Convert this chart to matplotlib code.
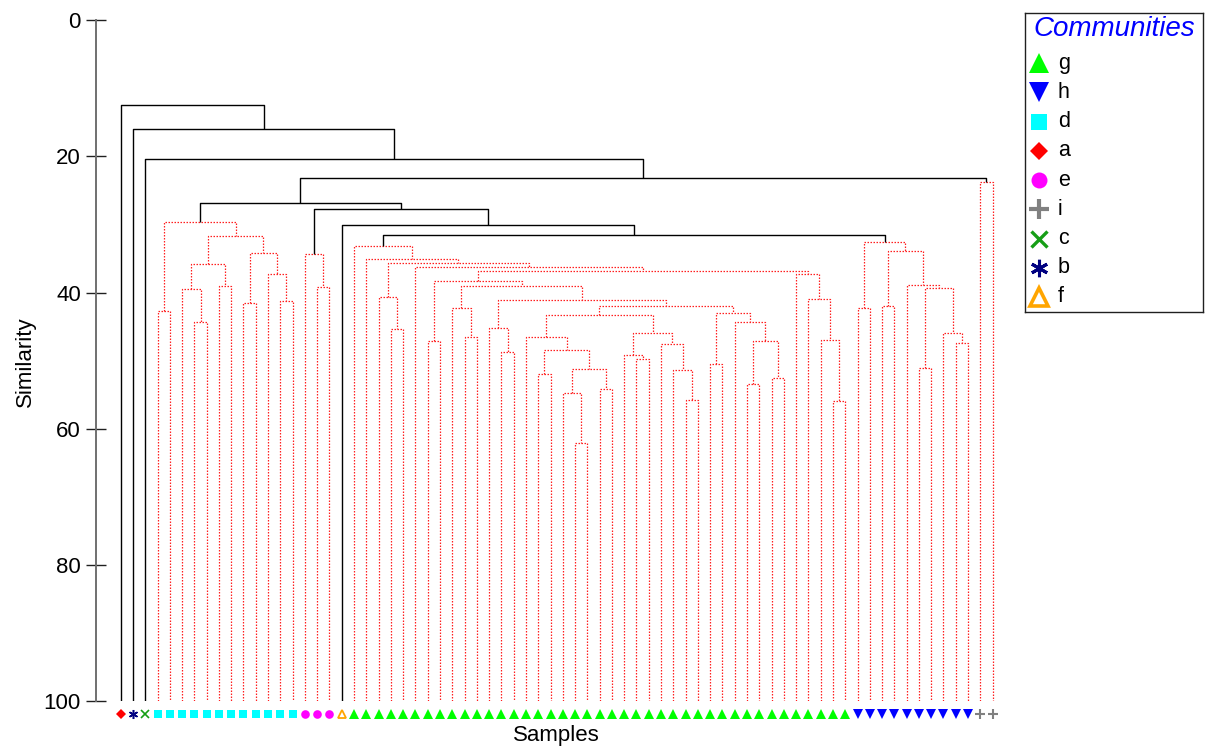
import matplotlib
matplotlib.use("Agg")
import matplotlib.pyplot as plt

plt.rcParams['font.family'] = ['Liberation Sans', 'DejaVu Sans']

# Community of the leaves, in the order they sit along the x axis
GROUP_ORDER = ['a', 'b', 'c', 'd', 'e', 'f', 'g', 'h', 'i']
GROUP_COUNTS = [1, 1, 1, 12, 3, 1, 41, 10, 2]

# Legend entries, top to bottom
LEGEND_ORDER = ['g', 'h', 'd', 'a', 'e', 'i', 'c', 'b', 'f']

# Merges: (name, left, right, similarity). ints are leaves, strings are earlier merges
MERGES = [
    # d cluster
    ('sq_34', 3, 4, 42.7),
    ('sq_67', 6, 7, 44.3),
    ('sq_567', 5, 'sq_67', 39.5),
    ('sq_89', 8, 9, 39.1),
    ('sq_5_9', 'sq_567', 'sq_89', 35.8),
    ('sq_1011', 10, 11, 41.6),
    ('sq_1314', 13, 14, 41.3),
    ('sq_1214', 12, 'sq_1314', 37.2),
    ('sq_10_14', 'sq_1011', 'sq_1214', 34.2),
    ('sq_5_14', 'sq_5_9', 'sq_10_14', 31.7),
    ('sq_all', 'sq_34', 'sq_5_14', 29.7),
    # e cluster
    ('ci_1617', 16, 17, 39.2),
    ('ci_all', 15, 'ci_1617', 34.4),
    # g cluster
    ('g_2223', 22, 23, 45.3),
    ('g_2123', 21, 'g_2223', 40.6),
    ('g_2526', 25, 26, 47.1),
    ('g_2829', 28, 29, 46.5),
    ('g_2729', 27, 'g_2829', 42.3),
    ('g_3132', 31, 32, 48.7),
    ('g_3032', 30, 'g_3132', 45.2),
    ('g_3435', 34, 35, 51.9),
    ('g_3738', 37, 38, 62.1),
    ('g_3638', 36, 'g_3738', 54.8),
    ('g_3940', 39, 40, 54.1),
    ('g_3640', 'g_3638', 'g_3940', 51.2),
    ('g_3440', 'g_3435', 'g_3640', 48.4),
    ('g_3340', 33, 'g_3440', 46.5),
    ('g_4243', 42, 43, 49.7),
    ('g_4143', 41, 'g_4243', 49.2),
    ('g_4647', 46, 47, 55.8),
    ('g_4547', 45, 'g_4647', 51.4),
    ('g_4447', 44, 'g_4547', 47.6),
    ('g_4147', 'g_4143', 'g_4447', 46.0),
    ('g_3347', 'g_3340', 'g_4147', 43.3),
    ('g_4849', 48, 49, 50.5),
    ('g_5152', 51, 52, 53.4),
    ('g_5354', 53, 54, 52.5),
    ('g_5154', 'g_5152', 'g_5354', 47.1),
    ('g_5054', 50, 'g_5154', 44.3),
    ('g_4854', 'g_4849', 'g_5054', 43.0),
    ('g_3354', 'g_3347', 'g_4854', 41.9),
    ('g_3054', 'g_3032', 'g_3354', 41.1),
    ('g_2754', 'g_2729', 'g_3054', 39.1),
    ('g_2554', 'g_2526', 'g_2754', 38.3),
    ('g_5859', 58, 59, 55.9),
    ('g_5759', 57, 'g_5859', 47.0),
    ('g_5659', 56, 'g_5759', 41.0),
    ('g_5559', 55, 'g_5659', 37.3),
    ('g_2559', 'g_2554', 'g_5559', 36.9),
    ('g_2459', 24, 'g_2559', 36.2),
    ('g_2159', 'g_2123', 'g_2459', 35.6),
    ('g_2059', 20, 'g_2159', 35.1),
    ('g_all', 19, 'g_2059', 33.2),
    # h cluster
    ('b_6061', 60, 61, 42.3),
    ('b_6263', 62, 63, 41.9),
    ('b_6566', 65, 66, 51.1),
    ('b_6869', 68, 69, 47.4),
    ('b_6769', 67, 'b_6869', 45.9),
    ('b_6569', 'b_6566', 'b_6769', 39.3),
    ('b_6469', 64, 'b_6569', 38.9),
    ('b_6269', 'b_6263', 'b_6469', 33.9),
    ('b_all', 'b_6061', 'b_6269', 32.5),
    # i pair
    ('p_all', 70, 71, 23.7),
    # upper part of the tree
    ('t_gb', 'g_all', 'b_all', 31.6),
    ('t_f', 18, 't_gb', 30.0),
    ('t_ci', 'ci_all', 't_f', 27.7),
    ('t_sq', 'sq_all', 't_ci', 26.9),
    ('t_p', 't_sq', 'p_all', 23.2),
    ('t_c', 2, 't_p', 20.4),
    ('t_b', 1, 't_c', 15.9),
    ('root', 0, 't_b', 12.5),
]

# merges drawn as solid black lines, everything else is red dotted
SIGNIFICANT = ['t_gb', 't_f', 't_ci', 't_sq', 't_p', 't_c', 't_b', 'root']

# marker, colour, filled, size on the axis, size in legend, edge width
MARKERS = {
    'g': ('^', '#00FF00', True, 6.7, 14, 1.0),
    'h': ('v', '#0000FF', True, 6.7, 14, 1.0),
    'd': ('s', '#00FFFF', True, 5.8, 11.5, 1.0),
    'a': ('D', '#FF0000', True, 4.7, 9.5, 1.0),
    'e': ('o', '#FF00FF', True, 6.2, 11.5, 1.0),
    'i': ('+', '#808080', True, 6.5, 14, 1.5),
    'c': ('x', '#169E16', True, 5.5, 11, 1.2),
    'b': ((6, 2, 0), '#000080', True, 6.5, 12.5, 1.1),
    'f': ('^', '#FFA500', False, 6.3, 13, 1.3),
}


def child_pos(ref, pos):
    # leaves sit at similarity 100
    if isinstance(ref, int):
        return ref, 100.0
    return pos[ref]


def draw_tree(ax):
    pos = {}
    for name, left, right, sim in MERGES:
        xl, hl = child_pos(left, pos)
        xr, hr = child_pos(right, pos)
        pos[name] = ((xl + xr) / 2.0, sim)
        if name in SIGNIFICANT:
            ax.plot([xl, xl, xr, xr], [hl, sim, sim, hr], color='black', linewidth=1.0,
                    solid_capstyle='butt', zorder=3)
        else:
            ax.plot([xl, xl, xr, xr], [hl, sim, sim, hr], color='#FF2020', linewidth=0.9,
                    linestyle=(0, (1.2, 1.2)), zorder=2)


def draw_marker(ax, x, y, grp, big, **kw):
    m, col, filled, ms_small, ms_big, mew = MARKERS[grp]
    ms = ms_big if big else ms_small
    edge = mew * (2.0 if big else 1.0)
    if m in ('+', 'x') or isinstance(m, tuple):
        ax.plot([x], [y], marker=m, color=col, markersize=ms, markeredgewidth=edge,
                linestyle='none', **kw)
    elif filled:
        ax.plot([x], [y], marker=m, color=col, markersize=ms, markeredgewidth=0,
                linestyle='none', **kw)
    else:
        ax.plot([x], [y], marker=m, markerfacecolor='none', markeredgecolor=col,
                markersize=ms, markeredgewidth=edge, linestyle='none', **kw)


fig = plt.figure(figsize=(12.07, 7.54), dpi=100)
ax = fig.add_axes([96 / 1207, 1 - 701 / 754, 909 / 1207, 680.7 / 754])

draw_tree(ax)

# community markers under each leaf
leaf = 0
for grp, n in zip(GROUP_ORDER, GROUP_COUNTS):
    for k in range(n):
        draw_marker(ax, leaf, 101.9, grp, False, clip_on=False, zorder=5)
        leaf += 1

ax.set_xlim(-2.01, 72.01)
ax.set_ylim(100, 0)
ax.set_yticks([0, 20, 40, 60, 80, 100])
ax.tick_params(axis='y', direction='inout', length=13.7, width=1.0, labelsize=16, pad=4,
               color='#202020')
ax.set_xticks([])
for side in ['top', 'right', 'bottom']:
    ax.spines[side].set_visible(False)
ax.spines['left'].set_color('#707070')
ax.spines['left'].set_linewidth(1.4)

fig.text(25 / 1207, 1 - 362 / 754, 'Similarity', rotation=90, ha='center', va='center', fontsize=16)
fig.text(556.6 / 1207, 1 - 736 / 754, 'Samples', ha='center', va='center', fontsize=16)

# legend box built by hand
lax = fig.add_axes([1024.7 / 1207, 1 - 311.7 / 754, 178.6 / 1207, 298.4 / 754])
lax.set_xlim(0, 178.6)
lax.set_ylim(298.4, 0)
lax.set_xticks([])
lax.set_yticks([])
for s in lax.spines.values():
    s.set_linewidth(1.0)
    s.set_color('#202020')
lax.text(89.3, 16, 'Communities', color='#0000FF', fontsize=20, style='italic',
         ha='center', va='center')
for i, grp in enumerate(LEGEND_ORDER):
    y = 50 + i * 29.2
    draw_marker(lax, 14.3, y, grp, True)
    lax.text(33, y, grp, fontsize=15.5, ha='left', va='center')

fig.savefig('out.png', dpi=100)
